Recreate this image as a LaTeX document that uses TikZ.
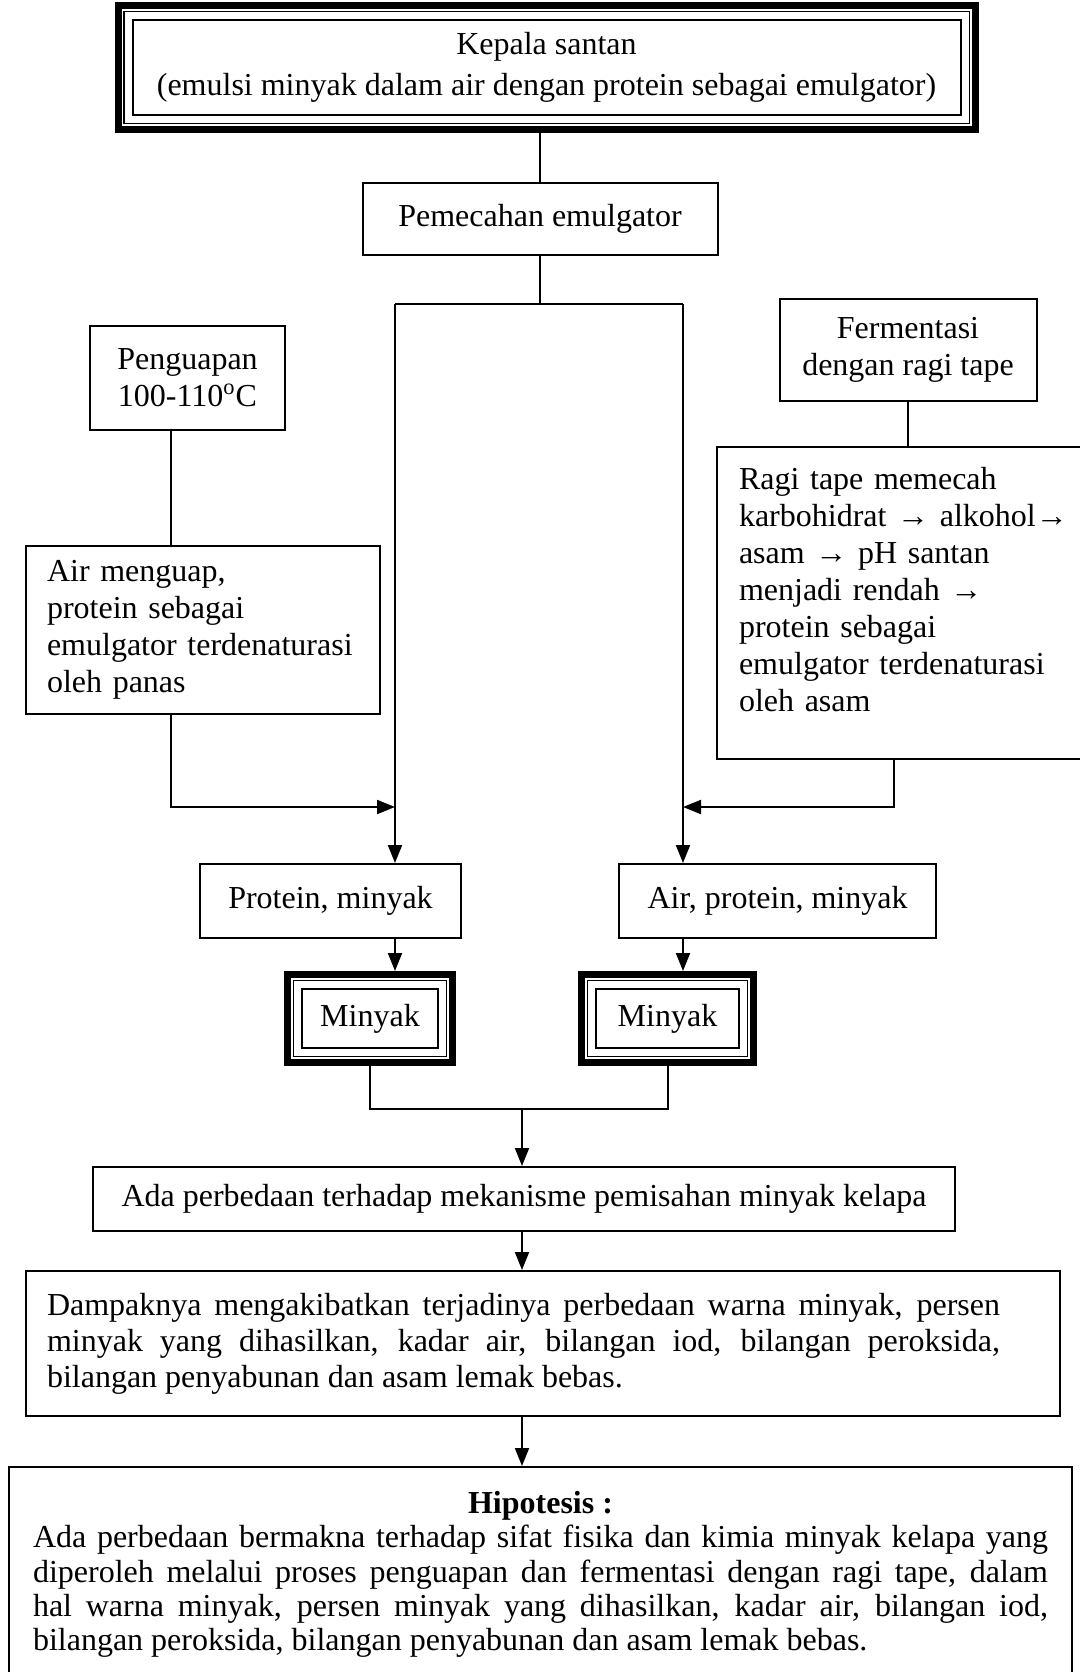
\documentclass[tikz,border=0pt]{standalone}
\usepackage{fontspec}
\setmainfont{Liberation Serif}
\usetikzlibrary{arrows.meta, positioning, calc}
\tikzset{
  box/.style={
    rectangle, draw=black, line width=1pt, align=center,
    font=\fontsize{16}{18.5}\selectfont, inner sep=6pt
  },
  textbox/.style={box, align=left},
  frame/.style={box, fill=white, outer sep=9pt,
    preaction={draw, line width=18pt},
    preaction={draw=white, line width=11pt},
    preaction={draw, line width=9.4pt},
    preaction={draw=white, line width=8pt}
  },
  edge/.style={-{Triangle[length=9pt,width=7pt]}, line width=1pt},
  link/.style={line width=1pt}
}

\begin{document}
\begin{tikzpicture}[x=0.5pt, y=-0.5pt]
    \useasboundingbox[fill=white] (0,0) rectangle (1080,1672);
    \node[frame, minimum width=414pt, minimum height=38.5pt, font=\fontsize{16}{20.5}\selectfont] (kS) at (546.5,67.5) {Kepala santan\\(emulsi minyak dalam air dengan protein sebagai emulgator)};
    \node[box, minimum width=177.5pt, minimum height=36pt] (pE) at (540,219) {Pemecahan emulgator};
    \coordinate (split) at (540,304);
    \coordinate (splitL) at (395,304);
    \coordinate (splitR) at (683,304);
    \coordinate (laneL) at (171,0);
    \coordinate (bend) at (0,807);
    \node[box, minimum width=97.5pt, minimum height=52pt] (pG) at (187.5,378) {Penguapan\\100-110\textsuperscript{o}C};
    \node[textbox, text width=156pt, inner xsep=10.5pt, minimum height=84pt] (pGd) at (203,630) {Air menguap,\\protein sebagai\\emulgator terdenaturasi\\oleh panas};
    \node[box, minimum width=128.5pt, minimum height=51pt] (fR) at (908,349.5) {Fermentasi\\dengan ragi tape};
    \node[textbox, text width=173pt, inner xsep=11pt, inner ysep=9pt, text height=12pt, text depth=126pt, anchor=north west] (fRd) at (716,446) {Ragi tape memecah\\karbohidrat → alkohol→\\asam → pH santan\\menjadi rendah →\\protein sebagai\\emulgator terdenaturasi\\oleh asam};
    \node[box, minimum width=130.5pt, minimum height=37pt] (hL) at (330.5,901) {Protein, minyak};
    \node[box, minimum width=158.5pt, minimum height=37pt] (hR) at (777.5,901) {Air, protein, minyak};
    \node[frame, minimum width=68pt, minimum height=29.5pt] (mL) at (370,1018.5) {Minyak};
    \node[frame, minimum width=71.5pt, minimum height=29.5pt] (mR) at (667.5,1018.5) {Minyak};
    \coordinate (join) at (522,1109);
    \node[box, minimum width=431pt, minimum height=32pt] (aD) at (524,1199) {Ada perbedaan terhadap mekanisme pemisahan minyak kelapa};
    \node[textbox, text width=496pt, inner xsep=10.5pt, minimum height=72.5pt, font=\fontsize{16}{18}\selectfont] (dK) at (543,1343.5) {\parbox{476.5pt}{\spaceskip=0pt Dampaknya mengakibatkan terjadinya perbedaan warna minyak, persen\linebreak minyak yang dihasilkan, kadar air, bilangan iod, bilangan peroksida,\linebreak bilangan penyabunan dan asam lemak bebas.}};
    \node[box, text width=507.5pt, inner xsep=12pt, inner ysep=12pt, align=justify, anchor=north, font=\fontsize{16}{17.2}\selectfont] (hP) at (540.5,1466) {{\centering\bfseries Hipotesis :\par}Ada perbedaan bermakna terhadap sifat fisika dan kimia minyak kelapa yang\linebreak diperoleh melalui proses penguapan dan fermentasi dengan ragi tape, dalam\linebreak hal warna minyak, persen minyak yang dihasilkan, kadar air, bilangan iod,\linebreak bilangan peroksida, bilangan penyabunan dan asam lemak bebas.};
    \draw[link] (kS.south -| pE.north) -- (pE.north);
    \draw[link] (pE.south) -- (split);
    \draw[link] (splitL) -- (splitR);
    \draw[edge] (splitL) -- (splitL |- hL.north);
    \draw[edge] (splitR) -- (splitR |- hR.north);
    \draw[link] (pG.south -| laneL) -- (pGd.north -| laneL);
    \draw[edge] (pGd.south -| laneL) |- (splitL |- bend);
    \draw[link] (fR.south) -- (fR.south |- fRd.north);
    \draw[edge] ([xshift=-9pt]fRd.south) |- (splitR |- bend);
    \draw[edge] (hL.south -| splitL) -- (mL.north -| splitL);
    \draw[edge] (hR.south -| splitR) -- (mR.north -| splitR);
    \draw[link] (mL.south) |- (join) -| (mR.south);
    \draw[edge] (join) -- (join |- aD.north);
    \draw[edge] (aD.south -| join) -- (dK.north -| join);
    \draw[edge] (dK.south -| join) -- (hP.north -| join);
\end{tikzpicture}
\end{document}
